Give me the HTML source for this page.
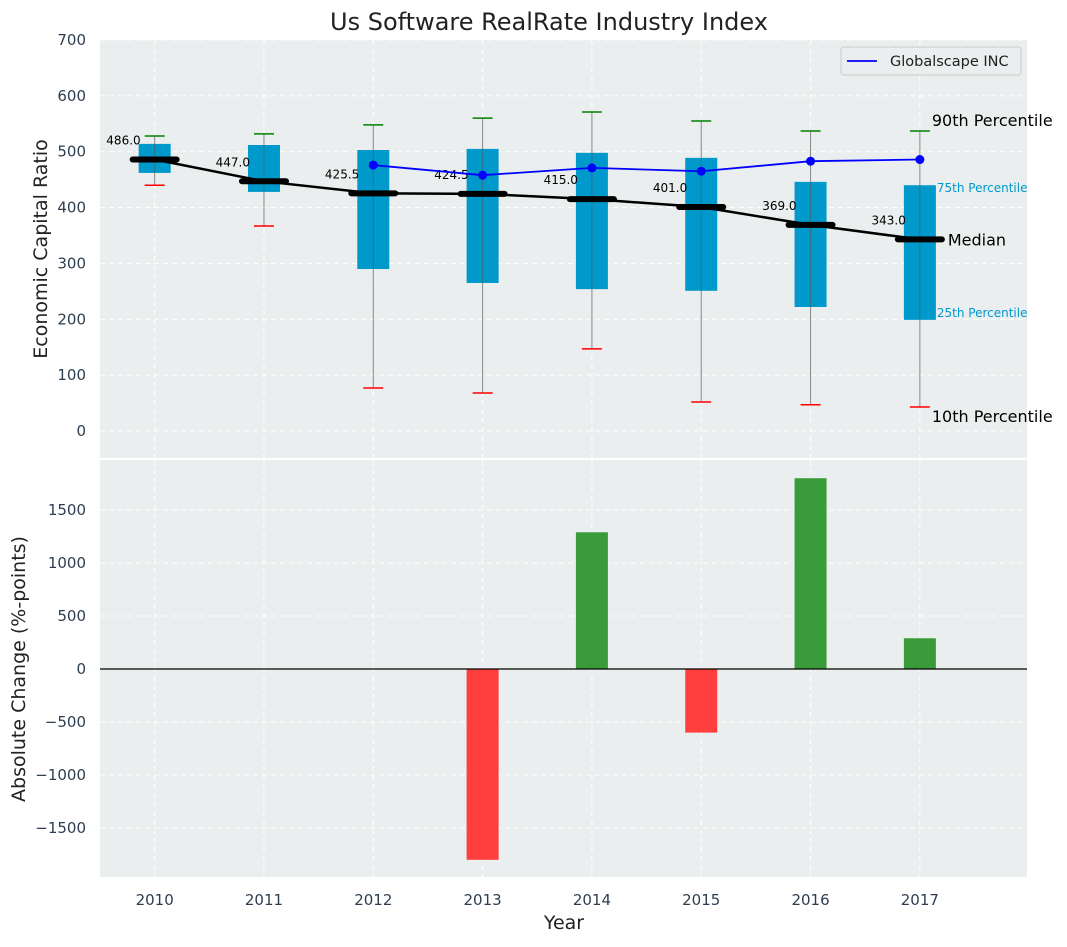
<!DOCTYPE html>
<html><head><meta charset="utf-8">
<style>
body{margin:0;background:#fff;font-family:"Liberation Sans","DejaVu Sans",sans-serif;}
svg text{font-family:"DejaVu Sans","Liberation Sans",sans-serif;}
</style></head>
<body>
<svg id="chart" width="1067" height="942" xmlns="http://www.w3.org/2000/svg"></svg>
<script>
const years=[2010,2011,2012,2013,2014,2015,2016,2017];
const p10=[440,367,77,68,147,52,47,43];
const q1=[462,428,290,265,254,251,222,199];
const medians=[486.0,447.0,425.5,424.5,415.0,401.0,369.0,343.0];
const q3=[514,512,503,505,498,489,446,440];
const p90=[528,532,548,560,571,555,537,537];
const companyYears=[2012,2013,2014,2015,2016,2017];
const companyValues=[476,458,471,465,483,486];
const changeYears=[2013,2014,2015,2016,2017];
const changeValues=[-1800,1290,-600,1800,290];
const topTicks=[0,100,200,300,400,500,600,700];
const botTicks=[-1500,-1000,-500,0,500,1000,1500];

const NS="http://www.w3.org/2000/svg";
const svg=document.getElementById('chart');
function el(tag,attrs,parent){const e=document.createElementNS(NS,tag);for(const k in attrs)e.setAttribute(k,attrs[k]);(parent||svg).appendChild(e);return e;}
const L=100,R=1027;
const x=v=>L+(v-2009.5)*(R-L)/8.48;
const T0=40,T1=458;
const yT=v=>431-v*0.5586;
const B0=460,B1=877;
const yB=v=>669-v*0.106;

let p=el('rect',{x:L,y:T0,width:R-L,height:T1-T0,fill:'#eaeeee'});

p=el('rect',{x:L,y:B0,width:R-L,height:B1-B0,fill:'#eaeeee'});


years.forEach(yr=>{
  el('line',{x1:x(yr),x2:x(yr),y1:T0,y2:T1,stroke:'#fff','stroke-dasharray':'5,4','stroke-width':1});
  el('line',{x1:x(yr),x2:x(yr),y1:B0,y2:B1,stroke:'#fff','stroke-dasharray':'5,4','stroke-width':1});
  const t=el('text',{x:x(yr),y:905,'text-anchor':'middle','font-size':15,fill:'#2e3e50'});t.textContent=yr;
  
});
topTicks.forEach(v=>{
  el('line',{x1:L,x2:R,y1:yT(v),y2:yT(v),stroke:'#fff','stroke-dasharray':'5,4','stroke-width':1});
  const t=el('text',{x:86,y:yT(v)+5,'text-anchor':'end','font-size':15,fill:'#2e3e50'});t.textContent=v;
  
});
botTicks.forEach(v=>{
  el('line',{x1:L,x2:R,y1:yB(v),y2:yB(v),stroke:'#fff','stroke-dasharray':'5,4','stroke-width':1});
  const t=el('text',{x:86,y:yB(v)+5,'text-anchor':'end','font-size':15,fill:'#2e3e50'});t.textContent=v<0?'\u2212'+(-v):v;
  
});

years.forEach((yr,i)=>{
  const cx=x(yr);
  const g=el('g',{});
  
  el('line',{x1:cx,x2:cx,y1:yT(p10[i]),y2:yT(p90[i]),stroke:'#888','stroke-width':1},g);
  el('rect',{x:cx-16,y:yT(q3[i]),width:32,height:yT(q1[i])-yT(q3[i]),fill:'#0099cc'},g);
  el('line',{x1:cx,x2:cx,y1:yT(q3[i]),y2:yT(q1[i]),stroke:'#555','stroke-width':1,opacity:0.6},g);
  el('line',{x1:cx-10,x2:cx+10,y1:yT(p90[i]),y2:yT(p90[i]),stroke:'green','stroke-width':1.5},g);
  el('line',{x1:cx-10,x2:cx+10,y1:yT(p10[i]),y2:yT(p10[i]),stroke:'red','stroke-width':1.5},g);
});
let ml=el('polyline',{points:years.map((yr,i)=>x(yr)+','+yT(medians[i])).join(' '),fill:'none',stroke:'#000','stroke-width':2.5});

years.forEach((yr,i)=>{
  const s=el('line',{x1:x(yr)-22,x2:x(yr)+22,y1:yT(medians[i]),y2:yT(medians[i]),stroke:'#000','stroke-width':6,'stroke-linecap':'round'});
  
  const t=el('text',{x:x(yr)-14,y:yT(medians[i])-15,'text-anchor':'end','font-size':12,fill:'#000'});t.textContent=medians[i].toFixed(1);
  
});
let cl=el('polyline',{points:companyYears.map((yr,i)=>x(yr)+','+yT(companyValues[i])).join(' '),fill:'none',stroke:'blue','stroke-width':1.8});

companyYears.forEach((yr,i)=>{
  const c=el('circle',{cx:x(yr),cy:yT(companyValues[i]),r:4.5,fill:'blue'});
  
});
const last=years.length-1,lx=x(years[last]);
[['90th Percentile',lx+12,yT(p90[last])-5,16,'#000'],['75th Percentile',lx+17,yT(q3[last])+7,12,'#0099cc'],
 ['Median',lx+28,yT(medians[last])+6,16,'#000'],['25th Percentile',lx+17,yT(q1[last])-3,12,'#0099cc'],
 ['10th Percentile',lx+12,yT(p10[last])+15,16,'#000']].forEach(a=>{
  const t=el('text',{x:a[1],y:a[2],'font-size':a[3],fill:a[4]});t.textContent=a[0];
  
});
const lg=el('g',{});
el('rect',{x:841,y:47,width:180,height:28,rx:3,fill:'#eaeeee',stroke:'#ccc'},lg);
el('line',{x1:847,x2:877,y1:61,y2:61,stroke:'blue','stroke-width':1.8},lg);
let lt=el('text',{x:890,y:66,'font-size':14.5,fill:'#222'},lg);lt.textContent='Globalscape INC';

changeYears.forEach((yr,i)=>{
  const v=changeValues[i];
  const r=el('rect',{x:x(yr)-16,y:Math.min(yB(v),yB(0)),width:32,height:Math.abs(yB(v)-yB(0)),fill:v<0?'#ff3e3e':'#3a9b3a'});
  
});
let zl=el('line',{x1:L,x2:R,y1:yB(0),y2:yB(0),stroke:'#000','stroke-width':1.2});


let t=el('text',{x:549,y:30,'text-anchor':'middle','font-size':24,fill:'#222'});t.textContent='Us Software RealRate Industry Index';

t=el('text',{x:47,y:249,'text-anchor':'middle','font-size':19,fill:'#222',transform:'rotate(-90 47 249)'});t.textContent='Economic Capital Ratio';

t=el('text',{x:25,y:669,'text-anchor':'middle','font-size':19,fill:'#222',transform:'rotate(-90 25 669)'});t.textContent='Absolute Change (%-points)';

t=el('text',{x:564,y:929,'text-anchor':'middle','font-size':19,fill:'#222'});t.textContent='Year';

</script>
</body></html>
